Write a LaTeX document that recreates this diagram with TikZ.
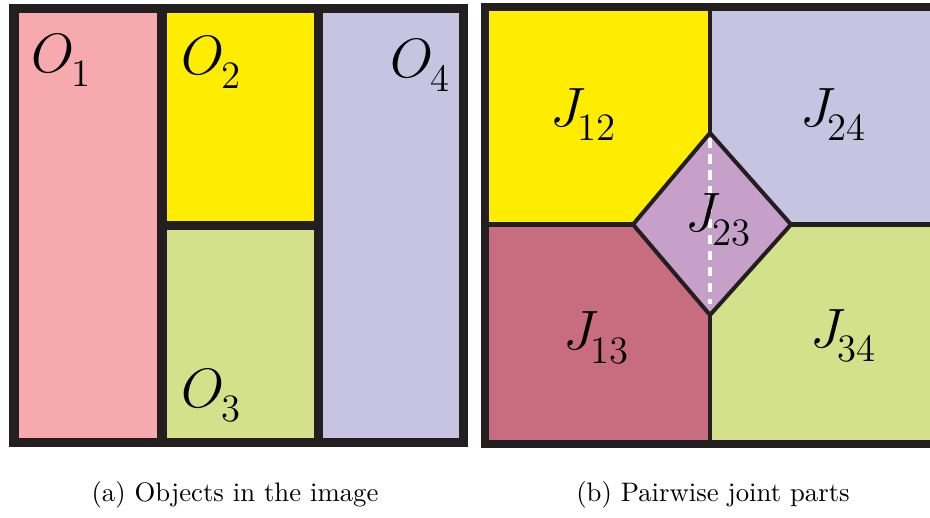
\documentclass[tikz,border=0pt]{standalone}
\definecolor{objpink}{RGB}{246,170,174}
\definecolor{objyellow}{RGB}{255,237,0}
\definecolor{objgreen}{RGB}{211,226,138}
\definecolor{objlilac}{RGB}{199,196,226}
\definecolor{jointred}{RGB}{200,108,128}
\definecolor{jointmauve}{RGB}{198,160,201}
\definecolor{edge}{RGB}{35,31,32}
\newcommand{\partlabel}[3][-3pt]{{\fontsize{21}{21}\selectfont$#2$}\kern#1\raisebox{-5.2pt}{\fontsize{14.5}{14.5}\selectfont #3}}

\begin{document}
\begin{tikzpicture}[x=0.374pt,y=-0.374pt,
        frame/.style={draw=edge,line width=3.4pt},
        seam/.style={draw=edge,line width=1.7pt},
        lbl/.style={anchor=base west,inner sep=0pt}]
    \useasboundingbox (0,0) rectangle (930,518);
    \clip (0,0) rectangle (930,518);
    % (a) objects
    \fill[objpink] (14,8.5) rectangle (162,442.5);
    \fill[objyellow] (162,8.5) rectangle (318.5,225.5);
    \fill[objgreen] (162,225.5) rectangle (318.5,442.5);
    \fill[objlilac] (318.5,8.5) rectangle (463.5,442.5);
    \draw[frame] (162,8.5) -- (162,442.5) (318.5,8.5) -- (318.5,442.5) (162,225.5) -- (318.5,225.5);
    \draw[frame] (14,8.5) rectangle (463.5,442.5);
    \foreach \n/\x/\y in {1/31/73, 2/181/75, 3/181/408, 4/390/78}{
        \node[lbl] (o\n) at (\x,\y) {\partlabel[-1pt]{O}{\n}};
    }
    % (b) joint parts
    \coordinate (dt) at (710,133); \coordinate (db) at (710,315);
    \coordinate (dl) at (633,224.5); \coordinate (dr) at (791,224.5);
    \fill[objyellow] (485,7.5) -- (710,7.5) -- (dt) -- (dl) -- (485,224.5) -- cycle;
    \fill[objlilac] (710,7.5) -- (960,7.5) -- (960,224.5) -- (dr) -- (dt) -- cycle;
    \fill[jointred] (485,224.5) -- (dl) -- (db) -- (710,444) -- (485,444) -- cycle;
    \fill[objgreen] (dr) -- (960,224.5) -- (960,444) -- (710,444) -- (db) -- cycle;
    \fill[jointmauve] (dt) -- (dr) -- (db) -- (dl) -- cycle;
    \draw[seam] (dt) -- (710,7.5) (db) -- (710,444) (dl) -- (485,224.5) (dr) -- (960,224.5);
    \draw[edge,line width=1.5pt,line join=miter] (dt) -- (dr) -- (db) -- (dl) -- cycle;
    \draw[white,line width=1.3pt,dash pattern=on 3.5pt off 2.5pt] ([yshift=-2pt]dt) -- ([yshift=4pt]db);
    \draw[edge,line width=3pt] (485,7.5) rectangle (960,444);
    \foreach \n/\x/\y in {12/550/127, 24/800/127, 23/685/232, 13/563/350, 34/810/348}{
        \node[lbl] (j\n) at (\x,\y) {\partlabel{J}{\n}};
    }
    % captions
    \node[anchor=base] (capa) at (235,502) {(a) Objects in the image};
    \node[anchor=base] (capb) at (713,502) {(b) Pairwise joint parts};
\end{tikzpicture}
\end{document}
